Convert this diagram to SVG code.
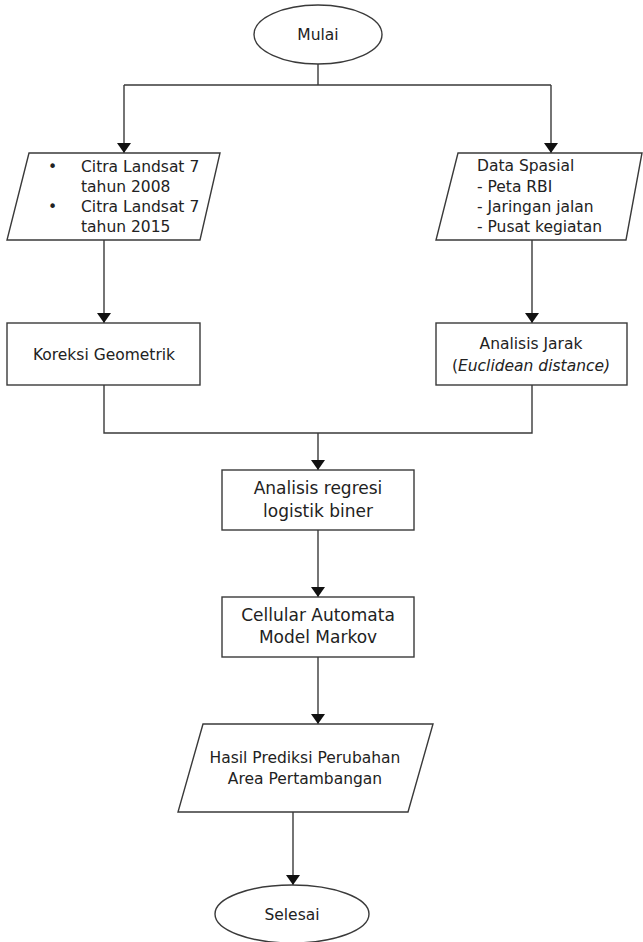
<svg xmlns="http://www.w3.org/2000/svg" width="643" height="942" viewBox="0 0 643 942">
<style>
.sh{fill:#fff;stroke:#3a3a3a;stroke-width:1.4}
.cn{fill:none;stroke:#3a3a3a;stroke-width:1.4}
.t{font-family:"DejaVu Sans",Verdana,sans-serif;font-size:15.5px;fill:#222}
.tl{font-family:"DejaVu Sans",Verdana,sans-serif;font-size:17px;fill:#222}
.c{text-anchor:middle}
</style>
<defs>
<marker id="ah" viewBox="0 0 10 14" refX="10" refY="7" markerWidth="10" markerHeight="14" orient="auto" markerUnits="userSpaceOnUse">
<path d="M0,0 L10,7 L0,14 z" fill="#111"/>
</marker>
</defs>
<rect width="643" height="942" fill="#fff"/>
<g id="connectors">
<path class="cn" d="M318,64 V85 M124,85 H551"/>
<path class="cn" d="M124,85 V153" marker-end="url(#ah)"/>
<path class="cn" d="M551,85 V153" marker-end="url(#ah)"/>
<path class="cn" d="M104,240 V323" marker-end="url(#ah)"/>
<path class="cn" d="M532,240 V323" marker-end="url(#ah)"/>
<path class="cn" d="M104,385 V433 H532 V385"/>
<path class="cn" d="M318,433 V470" marker-end="url(#ah)"/>
<path class="cn" d="M318,530 V597" marker-end="url(#ah)"/>
<path class="cn" d="M318,657 V724" marker-end="url(#ah)"/>
<path class="cn" d="M293,812 V885" marker-end="url(#ah)"/>
</g>
<g id="mulai">
<ellipse class="sh" cx="318" cy="34.5" rx="64" ry="29.5"/>
<text class="t c" x="318" y="40">Mulai</text>
</g>
<g id="citra">
<polygon class="sh" points="29,153 220,153 200,240 7,240"/>
<text class="t" x="48" y="172">•</text>
<text class="t" x="81" y="172">Citra Landsat 7</text>
<text class="t" x="81" y="192">tahun 2008</text>
<text class="t" x="48" y="212">•</text>
<text class="t" x="81" y="212">Citra Landsat 7</text>
<text class="t" x="81" y="232">tahun 2015</text>
</g>
<g id="spasial">
<polygon class="sh" points="458,153 642,153 626,240 436,240"/>
<text class="t" x="477" y="171">Data Spasial</text>
<text class="t" x="477" y="192">- Peta RBI</text>
<text class="t" x="477" y="212">- Jaringan jalan</text>
<text class="t" x="477" y="232">- Pusat kegiatan</text>
</g>
<g id="koreksi">
<rect class="sh" x="7" y="323" width="193" height="62"/>
<text class="t c" x="104" y="360">Koreksi Geometrik</text>
</g>
<g id="jarak">
<rect class="sh" x="436" y="323" width="191" height="62"/>
<text class="t c" x="531" y="349">Analisis Jarak</text>
<text class="t c" x="531" y="371">(<tspan font-style="italic">Euclidean distance)</tspan></text>
</g>
<g id="regresi">
<rect class="sh" x="222" y="470" width="192" height="60"/>
<text class="tl c" x="318" y="494">Analisis regresi</text>
<text class="tl c" x="318" y="517">logistik biner</text>
</g>
<g id="ca">
<rect class="sh" x="222" y="597" width="192" height="60"/>
<text class="tl c" x="318" y="621">Cellular Automata</text>
<text class="tl c" x="318" y="643">Model Markov</text>
</g>
<g id="hasil">
<polygon class="sh" points="203,724 433,724 408,812 178,812"/>
<text class="t c" x="305" y="763" font-size="16">Hasil Prediksi Perubahan</text>
<text class="t c" x="305" y="784" font-size="16">Area Pertambangan</text>
</g>
<g id="selesai">
<ellipse class="sh" cx="292" cy="914" rx="77" ry="29"/>
<text class="t c" x="292" y="920">Selesai</text>
</g>
</svg>
